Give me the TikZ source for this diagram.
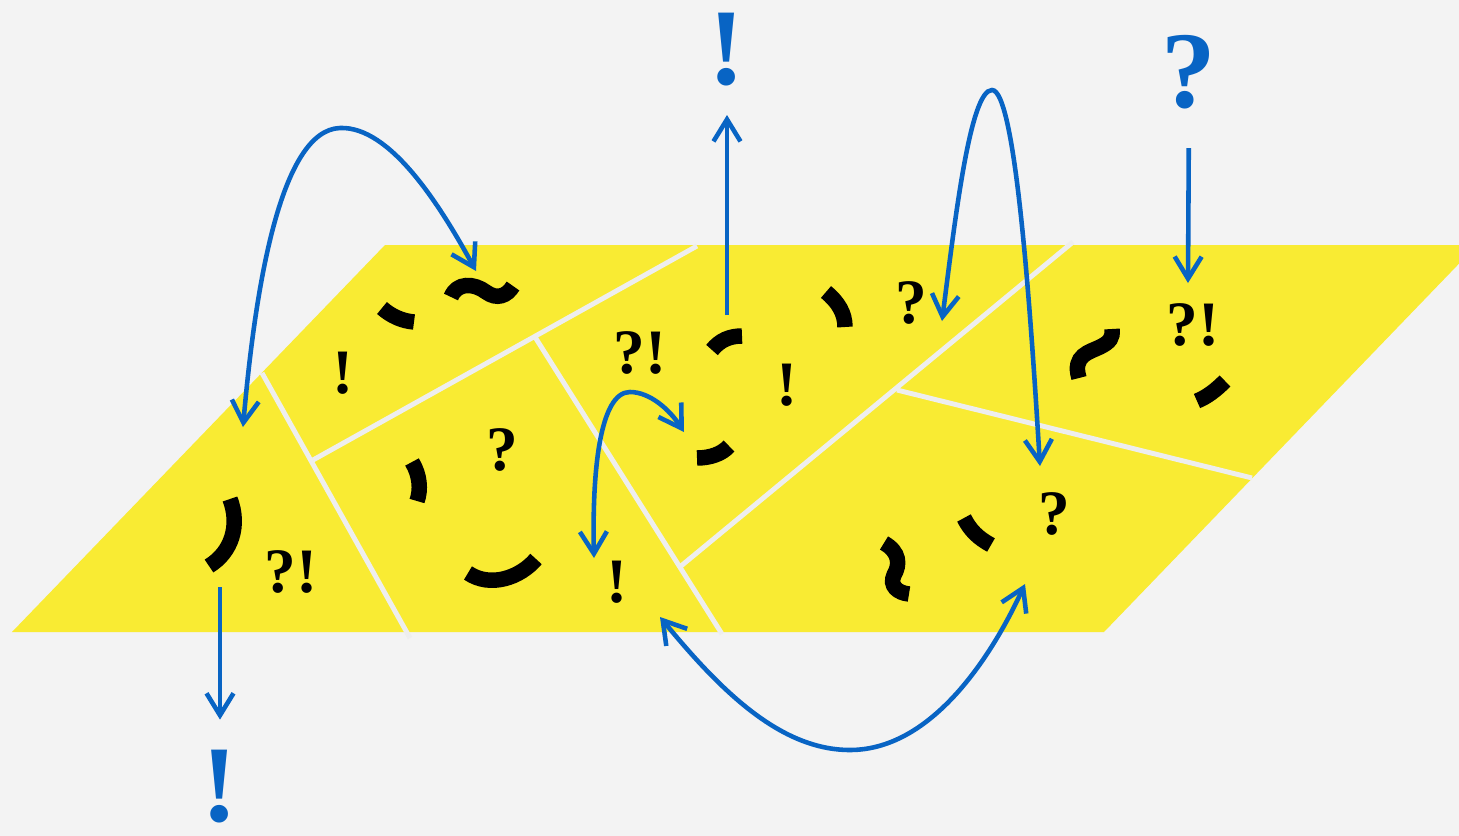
\documentclass[tikz,border=0pt]{standalone}
\usepackage{fontspec}
\setmainfont{Liberation Serif}
\usetikzlibrary{arrows.meta}
\definecolor{PlaneYellow}{RGB}{249,235,51}
\definecolor{PaleGray}{RGB}{243,243,243}
\definecolor{SeamWhite}{RGB}{238,238,238}
\definecolor{MarkBlue}{RGB}{8,100,196}

\begin{document}
\begin{tikzpicture}[
    x=0.01cm,
    y=-0.01cm,
    seam/.style={
        draw=SeamWhite,
        line width=1.4pt
    },
    stroke/.style={
        draw=black,
        line width=4.4pt
    },
    glyph/.style={
        inner sep=0pt,
        font=\fontsize{18}{20}\selectfont\bfseries
    },
    bigglyph/.style={
        inner sep=0pt,
        anchor=south,
        text=MarkBlue,
        font=\fontsize{31}{34}\selectfont\bfseries
    },
    flow/.style={
        -{Straight Barb[length=2.2mm,width=2.7mm]},
        line width=1.3pt,
        draw=MarkBlue
    },
    twoway/.style={
        {Straight Barb[length=2.2mm,width=2.7mm]}-{Straight Barb[length=2.2mm,width=2.7mm]},
        line width=1.3pt,
        draw=MarkBlue
    }
]

% background and page size
\fill[PaleGray] (0,0) rectangle (1459,836);
\useasboundingbox (0,0) rectangle (1459,836);

% =========================
% the plane
% =========================
\fill[PlaneYellow] (12,632) -- (1104,632) -- (1477,245) -- (385,245) -- cycle;

\draw[seam] (262,373) -- (410,638);
\draw[seam] (313,460) -- (697,246);
\draw[seam] (535,337) -- (722,634);
\draw[seam] (681,566) -- (1073,242);
\draw[seam] (897,390) -- (1252,478);

% =========================
% black fragments
% =========================
\draw[stroke] (382,308) .. controls (391,316) and (402,321) .. (414,322);
\draw[stroke] (451,297) .. controls (457,282) and (474,283) .. (486,292)
    .. controls (497,300) and (507,296) .. (513,286);
\draw[stroke] (826,292) .. controls (838,302) and (845,313) .. (845,327);
\draw[stroke] (712,350) .. controls (720,340) and (730,336) .. (742,336);
\draw[stroke] (697,458) .. controls (710,458) and (722,454) .. (729,446);
\draw[stroke] (1079,378) .. controls (1072,355) and (1090,352) .. (1100,347)
    .. controls (1110,342) and (1113,338) .. (1112,329);
\draw[stroke] (1197,401) .. controls (1207,397) and (1216,390) .. (1225,381);
\draw[stroke] (412,462) .. controls (420,475) and (421,490) .. (417,501);
\draw[stroke] (230,499) .. controls (240,525) and (232,552) .. (209,566);
\draw[stroke] (468,573) .. controls (490,588) and (520,578) .. (536,559);
\draw[stroke] (884,543) .. controls (900,552) and (900,565) .. (894,575)
    .. controls (889,586) and (898,593) .. (909,594);
\draw[stroke] (964,518) .. controls (970,530) and (978,538) .. (991,545);

% =========================
% black marks
% =========================
\node[glyph] (excl1) at (343,373) {!};
\node[glyph] (inter1) at (640,353) {?!};
\node[glyph] (excl2) at (787,385) {!};
\node[glyph] (quest1) at (911,303) {?};
\node[glyph] (inter2) at (1193,325) {?!};
\node[glyph] (quest2) at (502,450) {?};
\node[glyph] (inter3) at (291,572) {?!};
\node[glyph] (excl3) at (617,582) {!};
\node[glyph] (quest3) at (1054,514) {?};

% =========================
% blue marks and arrows
% =========================
\node[bigglyph] (topexcl) at (727,87) {!};
\node[bigglyph] (topquest) at (1189,110) {?};
\node[bigglyph] (botexcl) at (220,824) {!};

\coordinate (upfoot) at (727,315);
\coordinate (downtip) at (1188,283);
\coordinate (lowfoot) at (220,587);

\draw[flow, shorten >=0.28cm] (upfoot) -- (topexcl.south);
\draw[flow, shorten <=0.38cm] (topquest.south) -- (downtip);
\draw[flow, shorten >=0.30cm] (lowfoot) -- (botexcl.north);

\coordinate (leftend) at (243,427);
\coordinate (tildeend) at (476,271);
\coordinate (hookstart) at (942,321);
\coordinate (hookend) at (1040,466);
\coordinate (smallstart) at (594,558);
\coordinate (smallend) at (684,432);
\coordinate (bowstart) at (660,617);
\coordinate (bowend) at (1025,584);

\draw[twoway] (leftend) .. controls (255,290) and (280,130) .. (340,128)
    .. controls (390,126) and (440,205) .. (tildeend);
\draw[twoway] (hookstart) .. controls (955,220) and (970,90) .. (992,90)
    .. controls (1015,90) and (1030,300) .. (hookend);
\draw[twoway] (smallstart) .. controls (592,470) and (600,392) .. (630,392)
    .. controls (650,392) and (670,410) .. (smallend);
\draw[twoway] (bowstart) .. controls (720,690) and (780,750) .. (850,750)
    .. controls (930,750) and (990,660) .. (bowend);

\end{tikzpicture}
\end{document}
